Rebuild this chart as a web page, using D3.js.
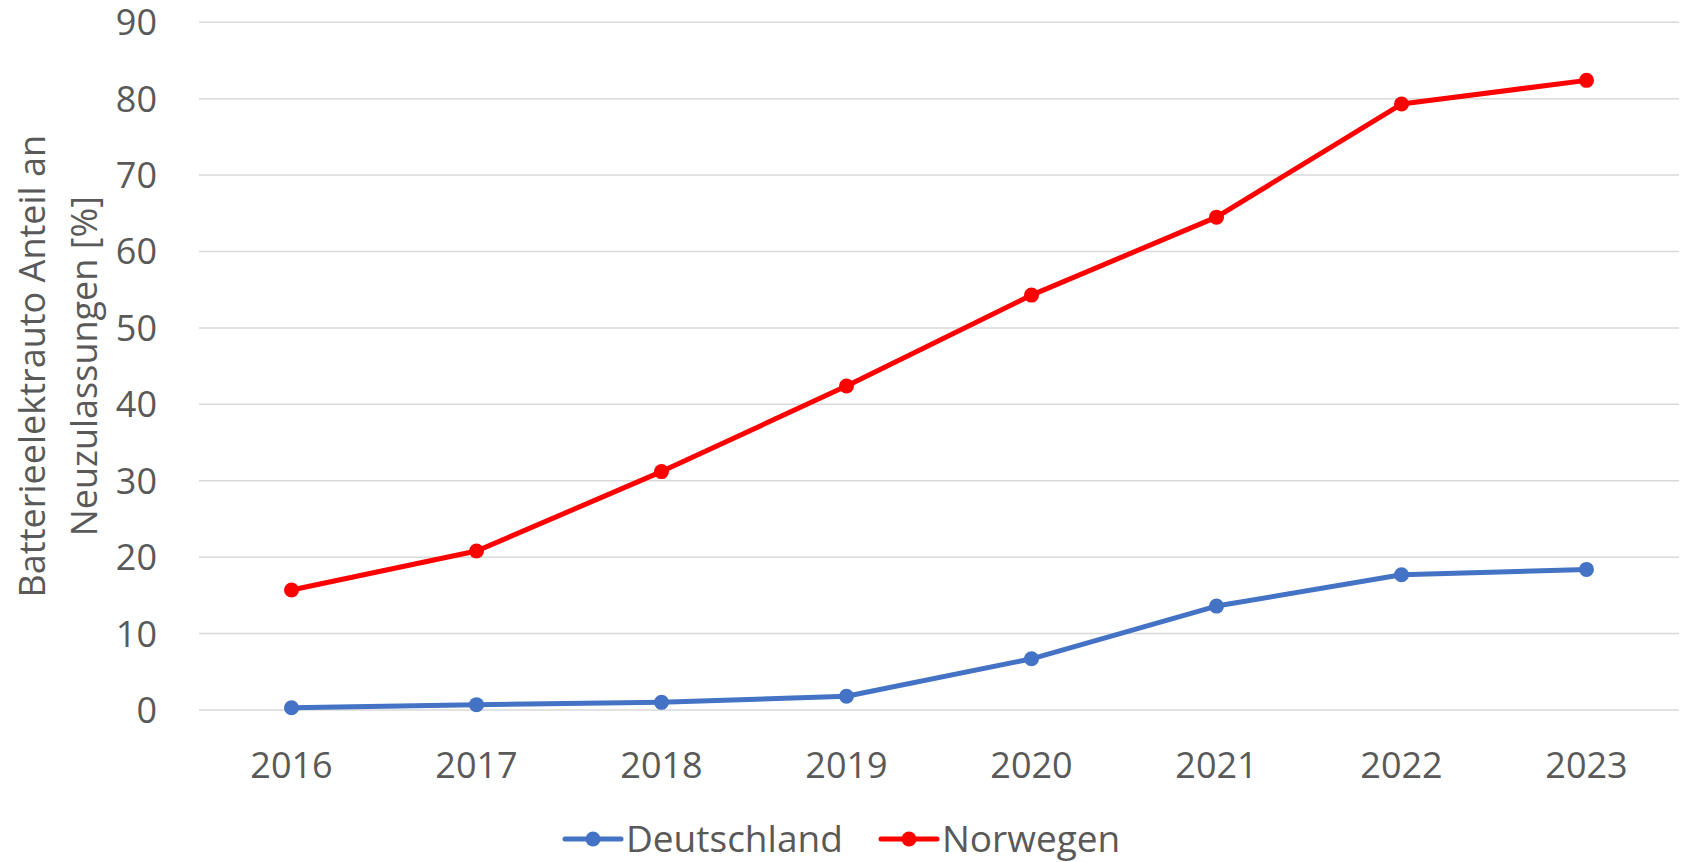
<!DOCTYPE html>
<html>
<head>
<meta charset="utf-8">
<script src="https://cdn.jsdelivr.net/npm/d3@7"></script>
<style>
  body { margin: 0; background: #fff; }
  text { font-family: "Open Sans", "Noto Sans", sans-serif; fill: #595959; }
</style>
</head>
<body>
<div class="graphics"></div>
<script>
// Jahre und Werte (Anteil in %)
var years = ["2016", "2017", "2018", "2019", "2020", "2021", "2022", "2023"];
var deutschland = [0.3, 0.7, 1.0, 1.8, 6.7, 13.6, 17.7, 18.4];
var norwegen = [15.7, 20.8, 31.2, 42.4, 54.3, 64.5, 79.3, 82.4];
var yTicks = [0, 10, 20, 30, 40, 50, 60, 70, 80, 90];
var seriesNames = ["Deutschland", "Norwegen"];
var seriesColors = ["#4472C4", "#FF0000"];

var w = 1685, h = 862;
var plotLeft = 199, plotRight = 1679, plotTop = 22.3, plotBottom = 710;

var svg = d3.select('.graphics')
    .append('svg')
    .attr("width", w)
    .attr("height", h);

var xScale = d3.scaleBand()
    .domain(years)
    .range([plotLeft, plotRight]);

var yScale = d3.scaleLinear()
    .domain([0, 90])
    .range([plotBottom, plotTop]);

function xMid(year){
    return xScale(year) + xScale.bandwidth() / 2;
}

// Gitterlinien
svg.append("g")
    .selectAll("line")
    .data(yTicks)
    .enter()
    .append("line")
    .attr("x1", plotLeft)
    .attr("x2", plotRight)
    .attr("y1", function(d){ return yScale(d); })
    .attr("y2", function(d){ return yScale(d); })
    .attr("stroke", "#D9D9D9")
    .attr("stroke-width", 1.5);

// Y-Achse Beschriftungen
svg.append("g")
    .selectAll("text")
    .data(yTicks)
    .enter()
    .append("text")
    .attr("x", 157)
    .attr("y", function(d){ return yScale(d); })
    .attr("dy", "0.36em")
    .attr("text-anchor", "end")
    .style("font-size", "36px")
    .text(function(d){ return d; });

// X-Achse Beschriftungen
svg.append("g")
    .selectAll("text")
    .data(years)
    .enter()
    .append("text")
    .attr("x", function(d){ return xMid(d); })
    .attr("y", 765)
    .attr("dy", "0.36em")
    .attr("text-anchor", "middle")
    .style("font-size", "36px")
    .text(function(d){ return d; });

// Achsentitel (zwei Zeilen, gedreht)
var title = svg.append("text")
    .attr("transform", "translate(0," + ((plotTop + plotBottom) / 2) + ") rotate(-90)")
    .attr("text-anchor", "middle")
    .style("font-size", "36px");
title.append("tspan").attr("x", 0).attr("y", 45).text("Batterieelektrauto Anteil an");
title.append("tspan").attr("x", 0).attr("y", 97).text("Neuzulassungen [%]");

// Linien mit Punkten
var allSeries = [deutschland, norwegen];
var line = d3.line()
    .x(function(d, i){ return xMid(years[i]); })
    .y(function(d){ return yScale(d); });

allSeries.forEach(function(values, s){
    svg.append("path")
        .datum(values)
        .attr("d", line)
        .attr("fill", "none")
        .attr("stroke", seriesColors[s])
        .attr("stroke-width", 5)
        .attr("stroke-linejoin", "round")
        .attr("stroke-linecap", "round");

    svg.append("g")
        .selectAll("circle")
        .data(values)
        .enter()
        .append("circle")
        .attr("cx", function(d, i){ return xMid(years[i]); })
        .attr("cy", function(d){ return yScale(d); })
        .attr("r", 7.5)
        .attr("fill", seriesColors[s]);
});

// Legende
var legendX = [565, 881];
var legend = svg.append("g")
    .selectAll("g")
    .data(seriesNames)
    .enter()
    .append("g")
    .attr("transform", function(d, i){ return "translate(" + legendX[i] + ",839)"; });

legend.append("line")
    .attr("x1", 0).attr("x2", 56)
    .attr("stroke", function(d, i){ return seriesColors[i]; })
    .attr("stroke-width", 5)
    .attr("stroke-linecap", "round");
legend.append("circle")
    .attr("cx", 28)
    .attr("r", 7.5)
    .attr("fill", function(d, i){ return seriesColors[i]; });
legend.append("text")
    .attr("x", 61)
    .attr("dy", "0.36em")
    .style("font-size", "37px")
    .text(function(d){ return d; });
</script>
</body>
</html>
